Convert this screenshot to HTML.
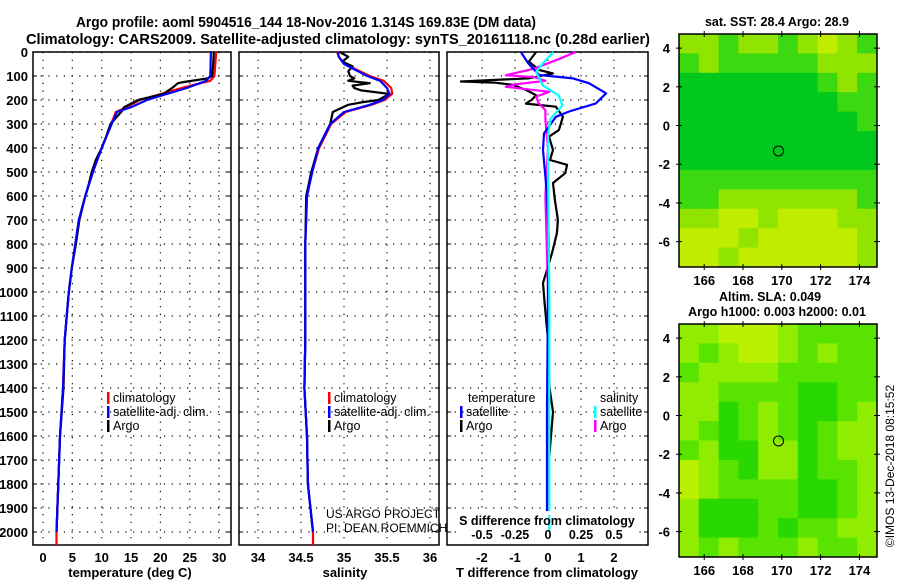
<!DOCTYPE html>
<html><head><meta charset="utf-8"><style>
html,body{margin:0;padding:0;background:#fff;}
svg{display:block;font-family:"Liberation Sans",sans-serif;}
.b{font-weight:bold;}
</style></head><body>
<svg id="c" width="900" height="580" viewBox="0 0 900 580">
<text class="b" x="306" y="27" font-size="15" text-anchor="middle" textLength="460" lengthAdjust="spacingAndGlyphs">Argo profile: aoml 5904516_144 18-Nov-2016 1.314S 169.83E (DM data)</text>
<text class="b" x="338" y="44" font-size="15" text-anchor="middle" textLength="624" lengthAdjust="spacingAndGlyphs">Climatology: CARS2009. Satellite-adjusted climatology: synTS_20161118.nc (0.28d earlier)</text>
<g id="p1"></g>
<g id="p2"></g>
<g id="p3"></g>
<g id="m1"></g>
<g id="m2"></g>
<text class="b" x="777" y="26" font-size="12.5" text-anchor="middle">sat. SST: 28.4 Argo: 28.9</text>
<text class="b" x="770" y="301" font-size="12.5" text-anchor="middle">Altim. SLA: 0.049</text>
<text class="b" x="777" y="316" font-size="12.5" text-anchor="middle">Argo h1000: 0.003 h2000: 0.01</text>
<text x="0" y="0" font-size="12" transform="translate(894,466) rotate(-90)" text-anchor="middle">©IMOS 13-Dec-2018 08:15:52</text>
</svg>
<script>
// ---- profile data ----
const depthTClim=[0,100,120,150,200,230,250,300,400,500,600,700,800,900,1000,1200,1400,1600,1800,2000,2054];
const tempClim=[29.5,29.2,28.5,23.6,16.5,14.2,12.4,11.6,10.0,8.5,7.2,6.1,5.5,4.9,4.4,3.7,3.4,2.9,2.6,2.3,2.3];
const depthTSat=[0,100,120,150,200,230,250,300,400,500,600,700,800,900,1000,1200,1400,1600,1800,2000];
const tempSat=[28.6,28.5,27.8,24.5,17.7,15.0,12.6,11.7,10.0,8.5,7.2,6.1,5.5,4.9,4.4,3.7,3.4,2.9,2.6,2.3];
const depthTArgo=[0,50,100,110,125,130,150,175,200,215,230,245,300,350,400,450,500,550,600,700,800,900,1000,1200,1400,1600,1800,2000];
const tempArgo=[29.1,29.0,28.8,28.0,24.0,23.0,22.0,20.5,16.2,15.0,13.8,13.5,11.5,10.8,10.0,9.0,8.3,7.8,7.2,6.2,5.6,4.9,4.4,3.7,3.5,2.9,2.6,2.3];
const depthSClim=[0,20,50,100,120,150,175,200,220,250,300,400,500,600,800,1000,1200,1400,1600,1800,2000,2054];
const salClim=[34.92,34.94,35.01,35.30,35.46,35.55,35.56,35.47,35.32,35.02,34.85,34.71,34.63,34.57,34.55,34.55,34.55,34.54,34.57,34.58,34.64,34.64];
const depthSSat=[0,20,50,100,120,150,175,200,220,250,300,400,500,600,800,1000,1200,1400,1600,1800,2000];
const salSat=[34.93,34.94,35.00,35.27,35.42,35.50,35.53,35.45,35.30,35.00,34.84,34.70,34.63,34.57,34.55,34.55,34.55,34.54,34.57,34.58,34.64];
const depthSArgo=[0,20,40,60,80,100,110,120,130,140,150,160,175,190,200,210,220,250,300,400,500,600,800,1000,1200,1400,1600,1800,2000];
const salArgo=[34.95,35.05,34.98,35.10,35.05,35.07,35.12,35.05,35.30,35.10,35.12,35.20,35.53,35.45,35.40,35.20,35.05,34.87,34.84,34.70,34.62,34.56,34.55,34.55,34.55,34.54,34.57,34.58,34.64];
const depthDTSat=[0,47,96,110,130,172,214,248,270,339,408,500,600,800,1000,1500,2000];
const dTSat=[-0.82,-0.6,-0.27,0.76,1.24,1.76,1.45,0.64,0.24,-0.12,-0.15,-0.09,-0.03,0.03,0,-0.03,-0.03];
const depthDTArgo=[0,40,75,89,110,123,128,137,158,180,200,215,228,270,325,353,408,450,470,505,546,617,700,755,838,963,1050,1200,1400,1500,1550,1700,2000];
const dTArgo=[-0.36,-0.58,-0.27,0.15,-0.6,-2.64,-1.6,-1.06,-0.67,-0.36,-0.5,-0.67,0.24,0.45,0.33,0.03,0.15,0.06,0.58,0.52,0.15,0.21,0.3,0.27,0.12,-0.15,-0.1,0,0.05,0.15,0.12,0.03,0.03];
const depthDSArgo=[0,30,70,97,105,120,135,145,166,186,214,242,283,400,600,1000,1500,2000];
const dSArgo=[0.21,0.08,-0.11,-0.32,-0.1,-0.02,-0.25,-0.32,0.01,-0.09,-0.07,-0.02,-0.02,0,-0.02,0,0,0];
const depthDSSat=[0,42,83,139,180,222,278,347,500,1000,1500,2000];
const dSSat=[0.04,-0.03,-0.09,-0.04,0.08,0.11,0.02,0,0,0.01,0.01,0.01];
const depthTicks=[0,100,200,300,400,500,600,700,800,900,1000,1100,1200,1300,1400,1500,1600,1700,1800,1900,2000];
const tempTicks=[0,5,10,15,20,25,30];
const salTicks=[34,34.5,35,35.5,36];
const dTTicks=[-2,-1,0,1,2];
const dSTicks=[-0.5,-0.25,0,0.25,0.5];
// ---- map data (category index per ~1deg cell, rows north->south, cols west->east) ----
const sstGrid=[
[2,2,1,2,2,1,2,3,2,1],
[1,2,1,1,1,1,1,2,2,2],
[0,0,0,0,0,0,0,1,2,1],
[0,0,0,0,0,0,0,0,1,1],
[0,0,0,0,0,0,0,0,0,1],
[0,0,0,0,0,0,0,0,0,0],
[0,0,0,0,0,0,0,0,0,0],
[1,1,1,1,1,1,1,1,1,1],
[1,1,2,2,2,2,2,2,2,1],
[2,2,3,3,2,3,3,3,2,2],
[3,3,3,2,3,3,3,3,3,2],
[3,3,2,3,3,3,3,3,3,2]];
const sstColors=["#00c81c","#3cd810","#90e400","#c0ec00"];
const slaGrid=[
[2,2,3,3,3,2,1,1,1,1],
[2,1,2,3,3,2,1,2,1,1],
[1,2,2,2,2,1,1,1,1,1],
[2,2,1,1,1,1,0,0,1,1],
[2,2,0,1,2,1,0,0,1,2],
[2,1,0,1,2,1,0,1,2,2],
[1,2,0,0,2,2,0,1,2,2],
[3,2,1,0,2,2,0,1,1,2],
[3,2,1,1,1,1,0,0,1,2],
[2,0,0,0,1,1,0,0,1,2],
[2,0,0,0,1,0,1,1,2,2],
[2,1,2,1,1,1,2,1,1,2]];
const slaColors=["#28d800","#58e400","#90ec00","#b8f000"];
const lonTicks=[166,168,170,172,174];
const latTicks=[4,2,0,-2,-4,-6];
const floatLon=169.83, floatLat=-1.314;

const NS="http://www.w3.org/2000/svg";
function mk(parent,tag,attrs){const e=document.createElementNS(NS,tag);for(const k in attrs)e.setAttribute(k,attrs[k]);parent.appendChild(e);return e;}
const TOP=52,BOT=545;
const yD=d=>TOP+d*0.24;

function panel(g,x0,x1,xs,ticks,fmt,showDepth){
  const gr=mk(g,'g',{});
  
  
  depthTicks.forEach(d=>{mk(gr,'line',{x1:x0,x2:x1,y1:yD(d),y2:yD(d),stroke:'#000','stroke-width':1.2,'stroke-dasharray':'1.2 6.5'});
    mk(gr,'line',{x1:x0,x2:x0+4,y1:yD(d),y2:yD(d),stroke:'#000'});mk(gr,'line',{x1:x1-4,x2:x1,y1:yD(d),y2:yD(d),stroke:'#000'});
    if(showDepth){const t=mk(g,'text',{x:28,y:yD(d)+5,'font-size':13,'text-anchor':'end','class':'b'});t.textContent=d;
      
      }});
  ticks.forEach(v=>{const x=xs(v);mk(gr,'line',{x1:x,x2:x,y1:TOP,y2:BOT,stroke:'#000','stroke-width':1.2,'stroke-dasharray':'1.2 6.5'});
    if(fmt){const t=mk(g,'text',{x:x,y:562,'font-size':13,'text-anchor':'middle','class':'b'});t.textContent=fmt(v);
      
      }});
  const r=mk(g,'rect',{x:x0,y:TOP,width:x1-x0,height:BOT-TOP,fill:'none',stroke:'#000','stroke-width':1.5});
  
  
}
function line(g,xs,depths,vals,color,name,w){
  const p=mk(g,'polyline',{points:depths.map((d,i)=>xs(vals[i]).toFixed(1)+','+yD(d).toFixed(1)).join(' '),fill:'none',stroke:color,'stroke-width':w||2.2,'stroke-linejoin':'round'});
  
  
}
function txt(g,x,y,s,size,anchor,bold,name){const t=mk(g,'text',{x:x,y:y,'font-size':size,'text-anchor':anchor||'start'});if(bold)t.setAttribute('class','b');t.textContent=s;
  
  return t;}
function legendMark(g,x,y,color){const r=mk(g,'rect',{x:x,y:y-10,width:2.5,height:12,fill:color});
  
  }

// Panel 1
const p1=document.getElementById('p1');
const xT=v=>43+v*5.87;
panel(p1,33,231,xT,tempTicks,v=>v,true);
line(p1,xT,depthTClim,tempClim,'#f00','temp-climatology-line');
line(p1,xT,depthTArgo,tempArgo,'#000','temp-argo-line');
line(p1,xT,depthTSat,tempSat,'#00f','temp-satellite-line');
txt(p1,130,577,'temperature (deg C)',13,'middle',true,'x-axis-title-temperature');
[['climatology','#f00'],['satellite-adj. clim.','#00f'],['Argo','#000']].forEach((l,i)=>{legendMark(p1,107,402+i*14,l[1]);txt(p1,113,402+i*14,l[0],12.5,'start',false,'legend-entry');});

// Panel 2
const p2=document.getElementById('p2');
const xS=v=>258+(v-34)*86;
panel(p2,239,439,xS,salTicks,v=>v,false);
line(p2,xS,depthSClim,salClim,'#f00','sal-climatology-line');
line(p2,xS,depthSArgo,salArgo,'#000','sal-argo-line');
line(p2,xS,depthSSat,salSat,'#00f','sal-satellite-line');
txt(p2,345,577,'salinity',13,'middle',true,'x-axis-title-salinity');
[['climatology','#f00'],['satellite-adj. clim.','#00f'],['Argo','#000']].forEach((l,i)=>{legendMark(p2,328,402+i*14,l[1]);txt(p2,334,402+i*14,l[0],12.5,'start',false,'legend-entry');});
txt(p2,326,518,'US ARGO PROJECT',12,'start',false,'credit-project');
txt(p2,326,532,'PI: DEAN ROEMMICH',12,'start',false,'credit-pi');

// Panel 3
const p3=document.getElementById('p3');
const xDT=v=>548+v*33, xDS=v=>548+v*132;
panel(p3,447,648,xDS,dSTicks,null,false);
line(p3,xDT,depthDTArgo,dTArgo,'#000','tdiff-argo-line');
line(p3,xDS,depthDSArgo,dSArgo,'#f0f','sdiff-argo-line');
line(p3,xDT,depthDTSat,dTSat,'#00f','tdiff-satellite-line');
line(p3,xDS,depthDSSat,dSSat,'#0ff','sdiff-satellite-line');
const bg=mk(p3,'rect',{x:456,y:511,width:182,height:31,fill:'#fff'});


line(p3,xDS,[1930,2000],[0.01,0.01],'#0ff','sdiff-satellite-tail');
txt(p3,547,525,'S difference from climatology',12.5,'middle',true,'s-axis-title');
dSTicks.forEach(v=>txt(p3,xDS(v),539,String(v),12.5,'middle',true,'s-tick-label'));
dTTicks.forEach(v=>txt(p3,xDT(v),562,String(v),13,'middle',true,'t-tick-label'));
txt(p3,547,577,'T difference from climatology',13,'middle',true,'x-axis-title-tdiff');
txt(p3,468,402,'temperature',12.5,'start',false,'legend-title-temperature');
txt(p3,600,402,'salinity',12.5,'start',false,'legend-title-salinity');
[['satellite','#00f',460,466],['Argo','#000',460,466],['satellite','#0ff',594,600],['Argo','#f0f',594,600]].forEach((l,i)=>{const y=416+(i%2)*14;legendMark(p3,l[2],y,l[1]);txt(p3,l[3],y,l[0],12.5,'start',false,'legend-entry');});

// Maps
function map(id,top,grid,colors){
  const g=document.getElementById(id);
  const L=679,R=877,bottom=top+233;
  const xL=lon=>L+(lon-164.7)*19.4, yL=lat=>top+(4.73-lat)*19.35;
  const cw=(R-L)/grid[0].length, ch=(bottom-top)/grid.length;
  grid.forEach((row,r)=>row.forEach((v,c)=>{const e=mk(g,'rect',{x:L+c*cw,y:top+r*ch,width:cw+0.5,height:ch+0.5,fill:colors[v]});
    
    }));
  const f=mk(g,'rect',{x:L,y:top,width:R-L,height:bottom-top,fill:'none',stroke:'#000','stroke-width':1.5});
  
  
  lonTicks.forEach(v=>{const x=xL(v);mk(g,'line',{x1:x,x2:x,y1:top-3,y2:top+3,stroke:'#000'});mk(g,'line',{x1:x,x2:x,y1:bottom-3,y2:bottom+3,stroke:'#000'});
    txt(g,x,bottom+18,String(v),13,'middle',true,'map-lon-label');});
  latTicks.forEach(v=>{const y=yL(v);mk(g,'line',{x1:L-3,x2:L+3,y1:y,y2:y,stroke:'#000'});mk(g,'line',{x1:R-3,x2:R+3,y1:y,y2:y,stroke:'#000'});
    txt(g,670,y+5,String(v),13,'end',true,'map-lat-label');});
  const c=mk(g,'circle',{cx:xL(floatLon),cy:yL(floatLat),r:5,fill:'none',stroke:'#000','stroke-width':1});
  
  
}
map('m1',34,sstGrid,sstColors);
map('m2',324,slaGrid,slaColors);
</script>
</body></html>
